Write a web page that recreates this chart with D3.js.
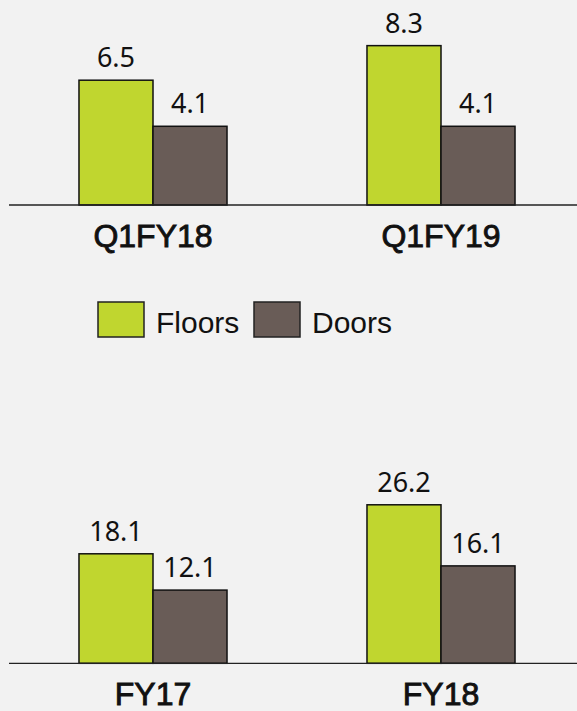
<!DOCTYPE html>
<html><head><meta charset="utf-8">
<script src="https://cdn.jsdelivr.net/npm/d3@7"></script>
<style>html,body{margin:0;padding:0;background:#f2f2f2;}svg{display:block;}</style>
</head><body>
<svg id="chart" width="577" height="711"></svg>
<script>
const series = ["Floors", "Doors"];
const colors = ["#c0d62f", "#695c57"];
const quarterCats = ["Q1FY18", "Q1FY19"];
const quarterFloors = [6.5, 8.3];
const quarterDoors = [4.1, 4.1];
const yearCats = ["FY17", "FY18"];
const yearFloors = [18.1, 26.2];
const yearDoors = [12.1, 16.1];

const svg = d3.select("#chart");
svg.append("rect").attr("width", 577).attr("height", 711).attr("fill", "#f2f2f2");

const color = d3.scaleOrdinal().domain(series).range(colors);

function panel(cats, floors, doors, baseY, yMax, pxPerUnit) {
  const g = svg.append("g");
  const x = d3.scaleBand().domain(cats).range([9, 585]).paddingInner(0.486).paddingOuter(0.243);
  const xs = d3.scaleBand().domain(series).range([0, x.bandwidth()]).padding(0);
  const y = d3.scaleLinear().domain([0, yMax]).range([baseY, baseY - yMax * pxPerUnit]);
  const rows = cats.map((c, i) => ({cat: c, vals: [{s: "Floors", v: floors[i]}, {s: "Doors", v: doors[i]}]}));
  const grp = g.selectAll("g.grp").data(rows).join("g")
    .attr("transform", d => `translate(${x(d.cat)},0)`);
  grp.selectAll("rect").data(d => d.vals).join("rect")
    .attr("x", d => xs(d.s)).attr("width", xs.bandwidth())
    .attr("y", d => y(d.v)).attr("height", d => y(0) - y(d.v))
    .attr("fill", d => color(d.s)).attr("stroke", "#111").attr("stroke-width", 1.5);
  grp.selectAll("text.val").data(d => d.vals).join("text").attr("class", "val")
    .attr("x", d => xs(d.s) + xs.bandwidth() / 2).attr("y", d => y(d.v) - 13)
    .attr("text-anchor", "middle").attr("font-family", "'Noto Sans', sans-serif")
    .attr("font-size", 27).attr("fill", "#111").text(d => d.v.toFixed(1));
  // axis
  const axis = d3.axisBottom(x).tickSize(0).tickPadding(0);
  const ag = g.append("g").attr("transform", `translate(0,${baseY})`).call(axis);
  ag.select(".domain").remove();
  ag.append("line").attr("x1", 9).attr("x2", 577).attr("y1", 0).attr("y2", 0)
    .attr("stroke", "#222").attr("stroke-width", 1.3);
  ag.selectAll(".tick text").attr("dy", 0).attr("y", 42)
    .attr("font-family", "'Liberation Sans', Arial, sans-serif")
    .attr("font-size", 32).attr("font-weight", "normal").attr("fill", "#111")
    .attr("stroke", "#111").attr("stroke-width", 0.9);
}

panel(quarterCats, quarterFloors, quarterDoors, 205, 10, 19.2);
panel(yearCats, yearFloors, yearDoors, 663.3, 30, 6.05);

// legend
const legendX = [98, 254];
const lg = svg.append("g");
const li = lg.selectAll("g").data(series).join("g")
  .attr("transform", (d, i) => `translate(${legendX[i]},302)`);
li.append("rect").attr("width", 46).attr("height", 35)
  .attr("fill", d => color(d)).attr("stroke", "#222").attr("stroke-width", 1.5);
li.append("text").attr("x", 58).attr("y", 31)
  .attr("font-family", "'Liberation Sans', Arial, sans-serif")
  .attr("font-size", 30).attr("fill", "#111").text(d => d);
</script>
</body></html>
